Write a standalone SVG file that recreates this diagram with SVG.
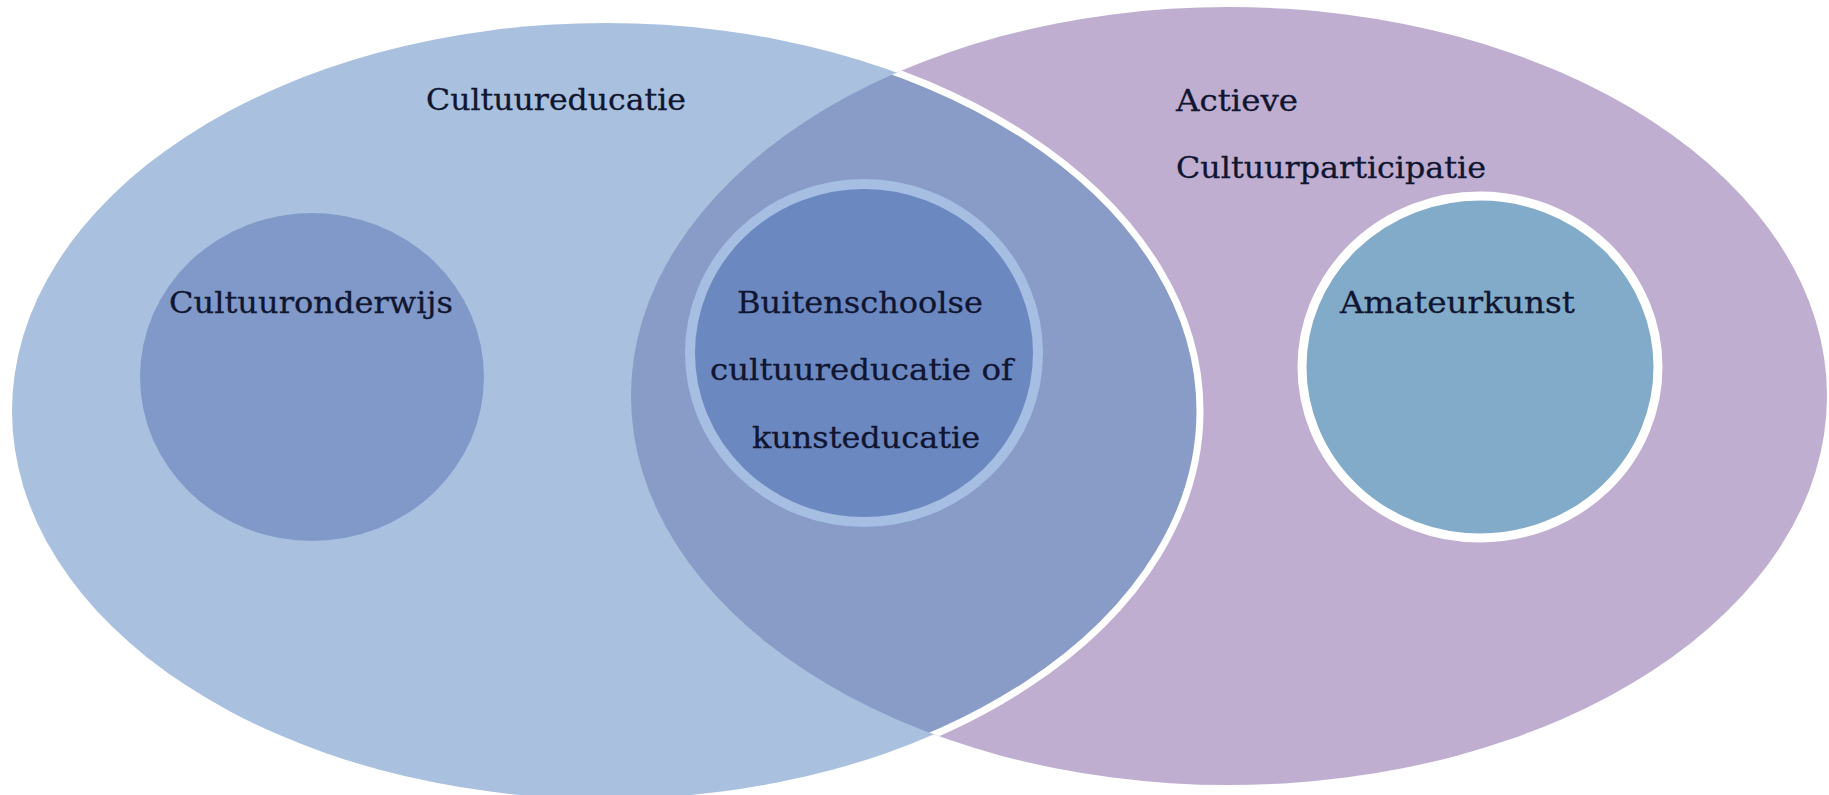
<svg xmlns="http://www.w3.org/2000/svg" width="1829" height="795" viewBox="0 0 1829 795">
<style>
text{font-family:"DejaVu Serif","Liberation Serif",serif;font-size:30px;fill:#101530;stroke:#101530;stroke-width:0.3}
</style>
<defs>
<clipPath id="clipRight"><ellipse cx="1229" cy="396" rx="598" ry="389"/></clipPath>
</defs>
<rect width="1829" height="795" fill="#ffffff"/>
<g id="actieve-cultuurparticipatie">
<ellipse cx="1229" cy="396" rx="598" ry="389" fill="#bfaed0"/>
</g>
<g id="cultuureducatie">
<ellipse cx="606" cy="411" rx="594" ry="388" fill="#a9c1de"/>
<g clip-path="url(#clipRight)">
<ellipse cx="606" cy="411" rx="594" ry="388" fill="#899bc7" stroke="#ffffff" stroke-width="7"/>
</g>
</g>
<g id="cultuuronderwijs">
<ellipse cx="312" cy="377" rx="172" ry="164" fill="#8099c9"/>
</g>
<g id="buitenschoolse">
<ellipse cx="864" cy="353" rx="174" ry="169" fill="#6c88c1" stroke="#a6bee2" stroke-width="10"/>
</g>
<g id="amateurkunst">
<ellipse cx="1480" cy="367" rx="178" ry="171" fill="#82abca" stroke="#ffffff" stroke-width="9"/>
</g>
<g id="labels">
<text x="426" y="110" textLength="260" lengthAdjust="spacingAndGlyphs">Cultuureducatie</text>
<text x="1176" y="111" textLength="122" lengthAdjust="spacingAndGlyphs">Actieve</text>
<text x="1176" y="178" textLength="310" lengthAdjust="spacingAndGlyphs">Cultuurparticipatie</text>
<text x="169" y="313" textLength="284" lengthAdjust="spacingAndGlyphs">Cultuuronderwijs</text>
<text x="737" y="313" textLength="246" lengthAdjust="spacingAndGlyphs">Buitenschoolse</text>
<text x="710" y="380" textLength="303" lengthAdjust="spacingAndGlyphs">cultuureducatie of</text>
<text x="752" y="448" textLength="228" lengthAdjust="spacingAndGlyphs">kunsteducatie</text>
<text x="1340" y="313" textLength="235" lengthAdjust="spacingAndGlyphs">Amateurkunst</text>
</g>
</svg>
